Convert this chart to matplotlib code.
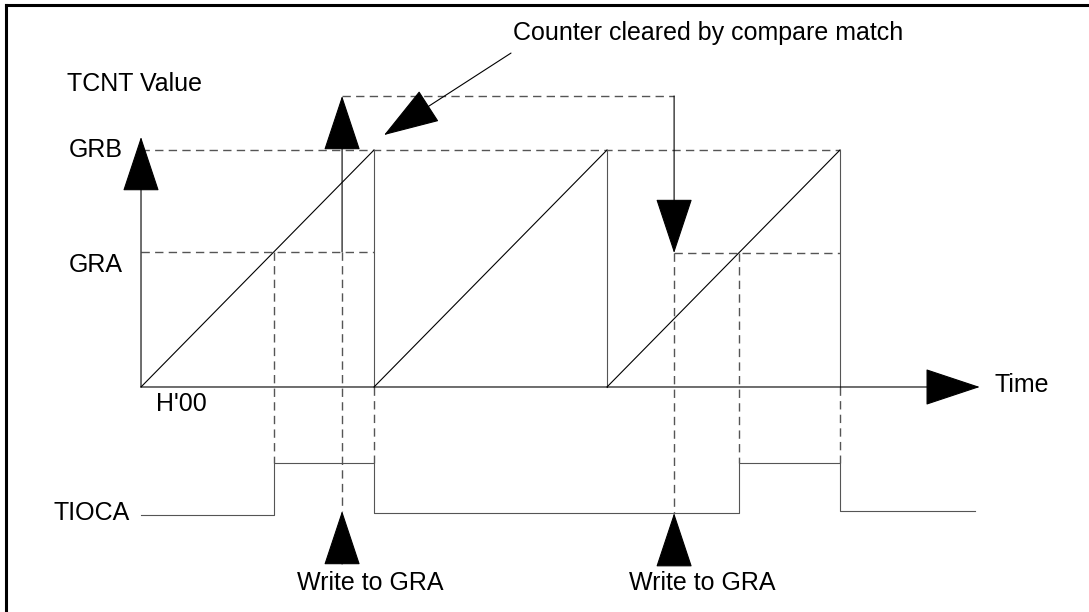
import matplotlib
matplotlib.use("Agg")
import matplotlib.pyplot as plt
from matplotlib.lines import Line2D

plt.rcParams['font.family'] = ['Liberation Sans', 'DejaVu Sans']
plt.rcParams['lines.scale_dashes'] = False

# time in units of one compare-match period, counter value as a fraction of GRB
ramp_t = [0, 1, 1, 2, 2, 3, 3]
ramp_v = [0, 1, 0, 1, 0, 1, 0]
grb = 1.0
gra_old = 0.57
gra_new = 0.565
write_t = [0.863, 2.288]
route_v = 1.228          # level of the dashed route from the first write to the second
time_end = 3.60
tcnt_axis_top = 1.055

# TIOCA output waveform
tioca_t = [0.0, 0.57, 0.57, 1.0, 1.0, 2.565, 2.565, 3.0, 3.0, 3.58]
tioca_v = [-0.540, -0.540, -0.321, -0.321, -0.532, -0.532, -0.321, -0.321, -0.523, -0.523]
tioca_high = -0.321
write_tip = [-0.523, -0.532]
write_base = -0.747

labels_left = ["TCNT Value", "GRB", "GRA"]

fig = plt.figure(figsize=(10.89, 6.12), dpi=100)
ax = fig.add_axes([0, 0, 1, 1])
ax.set_xlim(-0.6052, 4.0687)
ax.set_ylim(-0.9494, 1.6329)
ax.axis('off')

gray = '#555555'
dash = (0, (6, 3.8))
lw = 0.8


def arrow(x0, y0, x1, y1, color='black'):
    ax.annotate('', xy=(x1, y1), xytext=(x0, y0),
                arrowprops=dict(arrowstyle='-|>,head_length=3.67,head_width=1.22',
                                mutation_scale=10, color=color, lw=lw,
                                shrinkA=0, shrinkB=0))


def vdash(t, v0, v1):
    ax.plot([t, t], [v0, v1], color=gray, lw=1.0, ls=dash)


def hdash(t0, t1, v):
    ax.plot([t0, t1], [v, v], color=gray, lw=1.0, ls=dash)


# frame (top and left edges only)
fig.add_artist(Line2D([6 / 1089, 1], [1 - 5 / 612, 1 - 5 / 612], color='black', lw=2.2))
fig.add_artist(Line2D([6 / 1089, 6 / 1089], [0, 1 - 5 / 612], color='black', lw=2.2))

# reference levels
hdash(0.0, ramp_t[-1], grb)
hdash(0.0, 1.0, gra_old)
hdash(write_t[1], ramp_t[-1], gra_new)
hdash(write_t[0], write_t[1], route_v)

# sawtooth counter
for i in range(0, len(ramp_t) - 1):
    c = 'black' if ramp_t[i] != ramp_t[i + 1] else gray
    ax.plot(ramp_t[i:i + 2], ramp_v[i:i + 2], color=c, lw=lw)

# axes of the TCNT plot
arrow(0, 0, 0, tcnt_axis_top)
arrow(0, 0, time_end, 0)

# compare-match guide lines down to TIOCA
vdash(gra_old, gra_old, tioca_high)
vdash(2 + gra_new, gra_new, tioca_high)
for p in [1, 3]:
    vdash(p, 0, tioca_high)

# write to GRA markers
arrow(write_t[0], gra_old, write_t[0], route_v)
vdash(write_t[0], gra_old, write_tip[0])
arrow(write_t[1], route_v, write_t[1], gra_new)
vdash(write_t[1], gra_new, write_tip[1])
for t, tip in zip(write_t, write_tip):
    arrow(t, write_base, t, tip)

# TIOCA waveform
ax.plot(tioca_t, tioca_v, color=gray, lw=lw)

# annotation arrow
arrow(1.588, 1.409, 1.043, 1.063)

fs = 18
ax.text(-0.318, 1.278, labels_left[0], fontsize=fs, ha='left', va='center')
ax.text(-0.077, grb, labels_left[1], fontsize=fs, ha='right', va='center')
ax.text(-0.077, 0.515, labels_left[2], fontsize=fs, ha='right', va='center')
ax.text(0.064, -0.072, "H'00", fontsize=fs, ha='left', va='center')
ax.text(3.665, 0.008, "Time", fontsize=fs, ha='left', va='center')
ax.text(-0.047, -0.532, "TIOCA", fontsize=fs, ha='right', va='center')
for t in write_t:
    ax.text(t - 0.193, -0.827, "Write to GRA", fontsize=fs, ha='left', va='center')
ax.text(1.597, 1.494, "Counter cleared by compare match", fontsize=fs, ha='left', va='center')

fig.savefig('out.png', dpi=100)
